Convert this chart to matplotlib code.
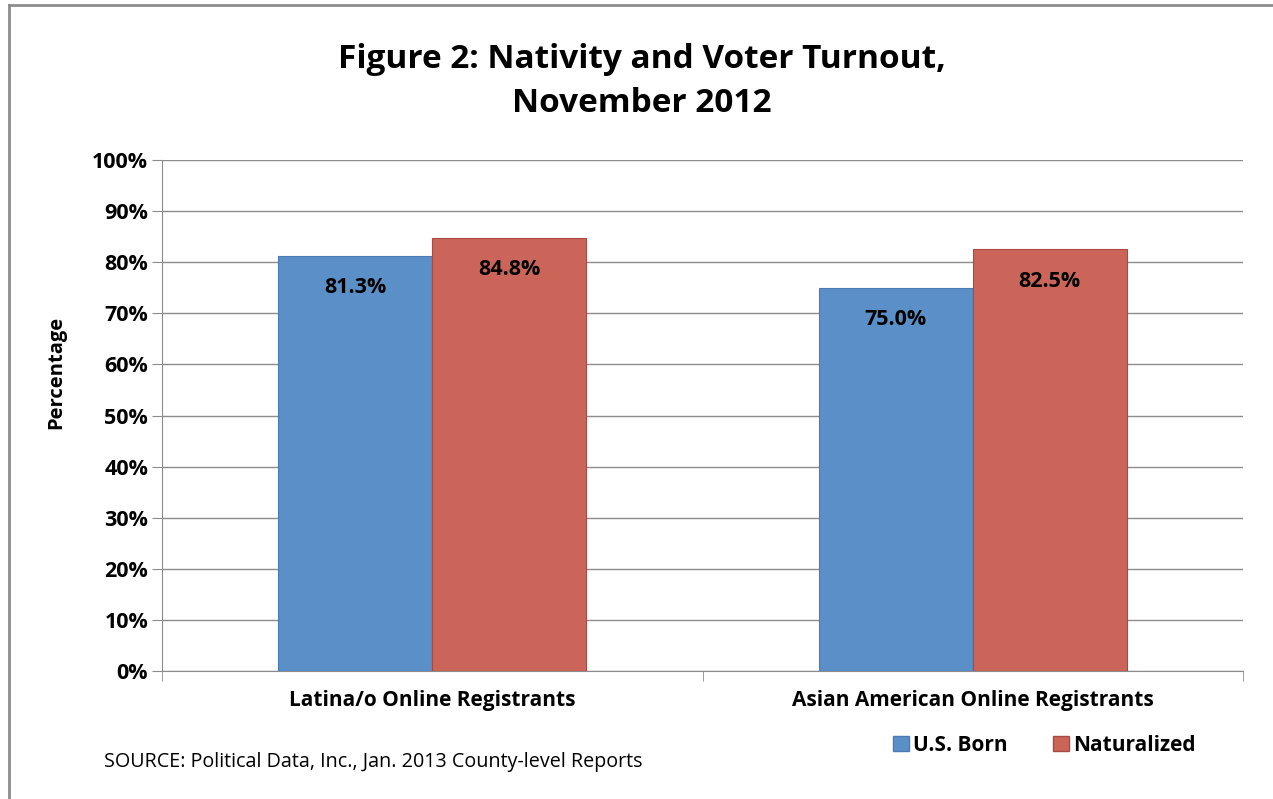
import matplotlib.pyplot as plt
from matplotlib.lines import Line2D
from matplotlib.patches import Patch

# data
groups = ["Latina/o Online Registrants", "Asian American Online Registrants"]
us_born = [81.3, 75.0]
naturalized = [84.8, 82.5]
series_names = ["U.S. Born", "Naturalized"]

plt.rcParams['font.family'] = ['Open Sans', 'DejaVu Sans']

blue = "#5B8FC7"
red = "#CB6459"

fig = plt.figure(figsize=(12.73, 7.99), dpi=100)
ax = fig.add_axes([0.1273, 0.1602, 0.8491, 0.6395])

x = [0, 1]
w = 0.285
b1 = ax.bar([i - w / 2 for i in x], us_born, w, color=blue, edgecolor="#4A7CB3", linewidth=0.8, zorder=3)
b2 = ax.bar([i + w / 2 for i in x], naturalized, w, color=red, edgecolor="#A84A42", linewidth=0.8, zorder=3)

for bars, vals in [(b1, us_born), (b2, naturalized)]:
    for r, v in zip(bars, vals):
        ax.annotate(f"{v:.1f}%", (r.get_x() + r.get_width() / 2, v),
                    xytext=(0, -32), textcoords="offset pixels",
                    ha="center", va="center", fontsize=15.5, fontweight="bold", zorder=4)

ax.set_xlim(-0.5, 1.5)
ax.set_ylim(0, 100)
ax.set_yticks(range(0, 101, 10))
ax.set_yticklabels([f"{t}%" for t in range(0, 101, 10)], fontsize=15.5, fontweight="bold")
ax.yaxis.grid(True, color="#8c8c8c", linewidth=1.0, zorder=0)
ax.set_xticks(x)
ax.set_xticklabels(groups, fontsize=15, fontweight="bold")
ax.set_xticks([-0.5, 0.5, 1.5], minor=True)
ax.tick_params(axis="x", which="major", length=0, pad=14)
ax.tick_params(axis="x", which="minor", length=7, color="#8c8c8c")
ax.tick_params(axis="y", length=7, color="#8c8c8c", pad=3)

for s in ["top", "right"]:
    ax.spines[s].set_visible(False)
for s in ["left", "bottom"]:
    ax.spines[s].set_color("#8c8c8c")

ax.set_ylabel("Percentage", fontsize=14.5, fontweight="bold")
ax.yaxis.set_label_coords(-0.0885, 0.585)

fig.text(0.504, 0.925, "Figure 2: Nativity and Voter Turnout,", ha="center", va="center",
         fontsize=24, fontweight="bold")
fig.text(0.504, 0.871, "November 2012", ha="center", va="center",
         fontsize=24, fontweight="bold")

fig.text(0.082, 0.046, "SOURCE: Political Data, Inc., Jan. 2013 County-level Reports",
         ha="left", va="center", fontsize=14.2)

handles = [Patch(facecolor=blue, edgecolor="#4A7CB3"), Patch(facecolor=red, edgecolor="#A84A42")]
leg = fig.legend(handles, series_names, loc="center", bbox_to_anchor=(0.8205, 0.067),
                 ncol=2, frameon=False, prop={"size": 15, "weight": "bold"},
                 handlelength=0.75, handleheight=0.75, handletextpad=0.2, columnspacing=2.2)

# outer frame lines (left and top)
fig.add_artist(Line2D([0.007, 0.007], [0, 0.994], color="#8c8c8c", linewidth=2, transform=fig.transFigure))
fig.add_artist(Line2D([0.007, 1.0], [0.994, 0.994], color="#8c8c8c", linewidth=2, transform=fig.transFigure))

fig.savefig("out.png", dpi=100)
